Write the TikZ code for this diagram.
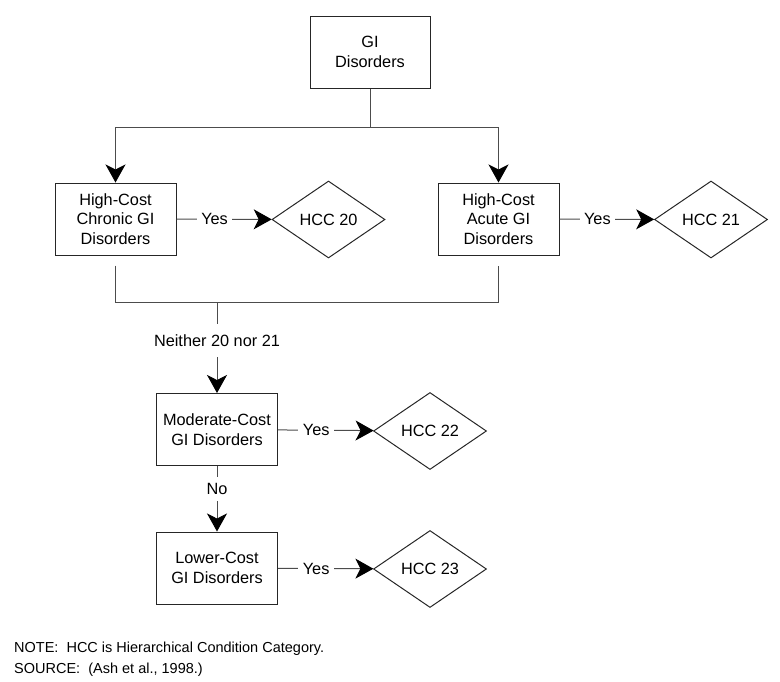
\documentclass[tikz,border=0pt]{standalone}
\usepackage{fontspec}
\setmainfont{Liberation Sans}
\usetikzlibrary{arrows.meta,shapes.geometric}

\tikzset{
  txt/.style={font=\fontsize{16.3}{19.5}\selectfont},
  box/.style={txt, draw=black!85, line width=1pt, minimum width=121pt, minimum height=72pt, align=center, inner sep=2pt},
  hcc/.style={txt, diamond, draw=black!85, line width=1pt, minimum width=113pt, minimum height=77pt, inner sep=0pt},
  conn/.style={draw=black!70, line width=1pt},
  arr/.style={conn, -{Stealth[length=18pt,width=20pt,inset=5pt,black]}},
  lbl/.style={txt, fill=white, inner xsep=4.5pt, inner ysep=4pt},
  note/.style={font=\fontsize{14.5}{21}\selectfont, inner sep=0pt, anchor=base west},
}

\begin{document}
\begin{tikzpicture}[x=1pt, y=-1pt]
        \useasboundingbox (0,0) rectangle (780,681);
        \node[box, minimum width=120pt] (gi) at (370,52) {GI\\Disorders};
        \node[box] (chronic) at (115.5,219) {High-Cost\\Chronic GI\\Disorders};
        \node[box] (acute) at (498.5,219) {High-Cost\\Acute GI\\Disorders};
        \node[hcc] (hcc20) at (328.5,219.5) {HCC 20};
        \node[hcc] (hcc21) at (711,219.5) {HCC 21};
        \node[box] (moderate) at (217,429.5) {Moderate-Cost\\GI Disorders};
        \node[hcc] (hcc22) at (430,431) {HCC 22};
        \node[box] (lower) at (217,568) {Lower-Cost\\GI Disorders};
        \node[hcc] (hcc23) at (430,569) {HCC 23};
        \coordinate (fork) at (370,127);
        \coordinate (join) at (217,302);
        \draw[conn] (gi) -- (fork);
        \draw[arr] (fork) -| (chronic.north);
        \draw[arr] (fork) -| (acute.north);
        \draw[conn] ([yshift=-10pt]chronic.south) -- (chronic.south |- join)
          -- (acute.south |- join) -- ([yshift=-10pt]acute.south);
        \path
        (chronic) edge[arr] node[lbl, pos=0.4] {Yes} (hcc20)
        (acute) edge[arr] node[lbl, pos=0.4] {Yes} (hcc21)
        (moderate) edge[arr] node[lbl, pos=0.4] {Yes} (hcc22)
        (lower) edge[arr] node[lbl, pos=0.4] {Yes} (hcc23)
        (join) edge[arr] node[lbl, pos=0.42, inner ysep=10.5pt] {Neither 20 nor 21} (moderate)
        (moderate) edge[arr] node[lbl, pos=0.35, inner ysep=6pt] {No} (lower);
        \node[note] (notetxt) at (14,652) {NOTE:\ \ HCC is Hierarchical Condition Category.};
        \node[note] (source) at (14,673) {SOURCE:\ \ (Ash et al., 1998.)};
    \end{tikzpicture}
\end{document}
